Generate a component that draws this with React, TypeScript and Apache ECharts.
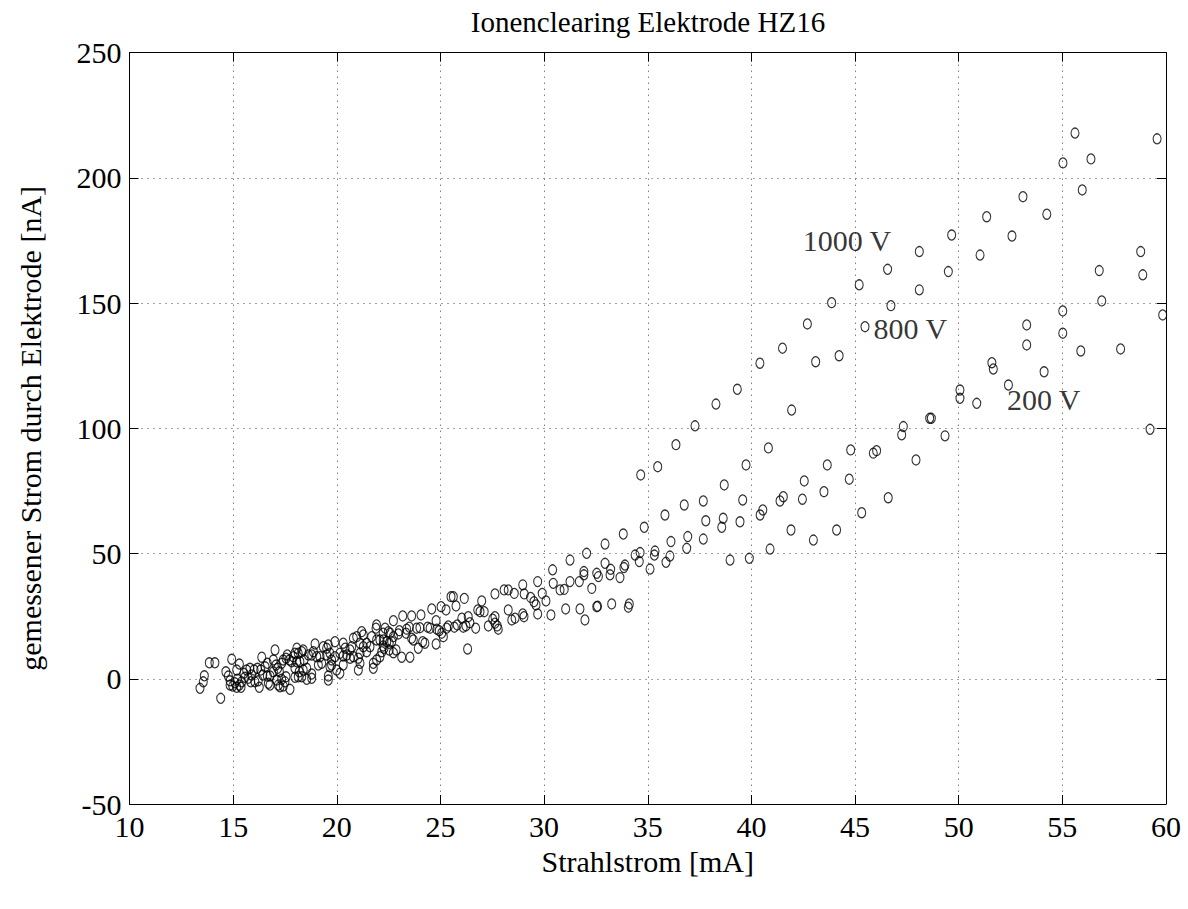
import React, { useEffect, useRef } from "react";
import * as echarts from "echarts";

// Strahlstrom [mA] (x) and gemessener Strom [nA] (y)
const strahlstrom: number[] = [
  13.40, 13.56, 13.61, 13.85, 14.12, 14.40, 14.93, 14.65, 14.77, 14.85,
  14.85, 14.98, 15.09, 15.17, 15.30, 15.38, 15.20, 15.41, 15.30, 15.17,
  15.57, 15.52, 15.65, 15.81, 16.01, 16.17, 16.33, 15.73, 15.85, 16.05,
  16.21, 16.26, 15.89, 16.43, 16.65, 16.78, 16.70, 16.78, 16.38, 16.65,
  16.54, 17.02, 16.94, 17.07, 17.15, 17.23, 16.94, 17.18, 17.10, 17.34,
  17.50, 17.55, 17.74, 17.34, 17.42, 17.55, 17.61, 17.71, 17.82, 17.90,
  18.07, 17.98, 18.14, 18.31, 18.38, 18.07, 18.22, 18.42, 17.98, 18.19,
  18.38, 18.55, 17.98, 18.14, 18.31, 18.79, 18.63, 18.79, 18.87, 18.95,
  19.03, 19.19, 19.11, 19.27, 19.35, 19.51, 19.59, 19.51, 19.67, 19.75,
  19.91, 19.67, 19.75, 19.59, 19.91, 20.31, 20.40, 20.31, 20.15, 20.31,
  20.48, 20.64, 20.72, 20.80, 20.96, 21.04, 21.12, 21.20, 21.28, 21.44,
  21.60, 21.68, 21.76, 21.92, 22.08, 21.92, 21.89, 22.28, 22.24, 22.41,
  22.53, 22.57, 22.49, 21.12, 21.28, 20.64, 20.80, 21.76, 21.12, 21.44,
  22.08, 21.92, 21.04, 19.99, 20.15, 19.59, 18.55, 18.79, 17.26, 17.42,
  32.05, 31.25, 30.41, 32.54, 32.62, 31.92, 31.92, 31.70, 31.25, 30.77,
  30.97, 30.44, 32.30, 29.69, 28.97, 29.91, 29.51, 29.61, 30.09, 29.69,
  30.33, 31.04, 31.73, 32.54, 32.58, 31.97, 28.56, 29.04, 29.35, 28.27,
  28.97, 29.03, 28.60, 28.44, 28.07, 28.27, 27.63, 26.99, 26.80, 26.91,
  27.11, 27.63, 27.52, 27.63, 27.74, 27.79, 27.31, 26.15, 25.75, 25.51,
  25.62, 25.03, 25.27, 24.58, 24.06, 23.61, 23.18, 22.73, 22.33, 24.79,
  26.03, 26.34, 26.70, 26.42, 26.23, 26.10, 25.81, 25.67, 25.38, 25.30,
  24.94, 25.06, 25.14, 24.82, 24.38, 24.50, 24.01, 23.85, 23.50, 23.37,
  23.34, 23.02, 22.97, 22.73, 22.65, 22.24, 22.24, 22.17, 22.86, 22.73,
  22.53, 23.13, 23.53, 23.69, 23.61, 23.93, 24.25, 24.14, 24.79, 26.31,
  36.36, 40.82, 34.66, 35.48, 39.74, 38.69, 42.55, 36.76, 37.68, 39.58,
  41.38, 41.54, 42.46, 35.83, 37.80, 38.64, 38.57, 39.45, 40.55, 40.42,
  34.83, 33.82, 32.94, 36.12, 36.93, 37.68, 36.88, 41.91, 42.99, 40.90,
  38.97, 39.90, 34.63, 34.39, 35.35, 35.32, 36.07, 35.88, 34.59, 35.11,
  32.94, 33.21, 33.18, 33.90, 33.85, 33.66, 33.26, 34.11, 34.06,
  37.28, 38.29, 39.32, 40.41,
  44.79, 43.66, 45.88, 46.04, 47.94, 44.72, 43.50, 46.60, 45.32, 44.11,
  55.96, 53.10, 54.25, 51.35, 52.57, 49.66, 51.03, 48.10, 49.50, 46.57,
  48.10, 45.20, 46.73, 43.87, 45.48, 42.70, 41.50, 43.10, 44.23, 41.94,
  47.33, 47.25, 48.60, 48.68, 49.34, 50.06, 50.06, 50.87, 51.60, 51.67,
  52.40, 53.28, 53.28, 54.12, 55.02, 55.02, 55.89, 57.81, 56.90, 56.78,
  58.78, 58.88, 59.84, 59.23,
  55.03, 55.61, 56.38, 59.57,
];

const elektrodenstrom: number[] = [
  -3.8, -1.2, 1.2, 6.4, 6.4, -7.8, 7.8, 2.8, 1.1, -0.8,
  -2.5, -2.9, -1.6, -3.4, -2.5, -3.4, -0.2, -1.2, 5.9, 3.5,
  0.6, 2.2, 3.5, 4.2, 3.5, 4.2, 3.5, 0.2, -1.2, -1.2,
  -0.8, -3.4, 1.5, 1.5, 1.1, 1.1, -1.8, -2.5, 8.6, 6.2,
  4.8, 11.5, 7.5, 5.5, 4.2, 2.8, 2.8, -2.5, -0.5, -0.2,
  -1.2, 0.8, -4.2, 6.2, 7.5, 8.2, 9.5, 7.5, 6.8, 8.8,
  12.2, 10.2, 10.2, 10.8, 11.5, 6.8, 6.8, 7.5, 4.2, 2.8,
  3.5, 4.2, 0.6, 0.8, 0.8, 1.9, 9.5, 9.5, 10.8, 13.9,
  8.8, 8.8, 5.5, 6.2, 12.8, 12.2, 13.5, 9.5, 10.2, 7.5,
  8.8, 4.8, 5.5, 1.1, 14.8, 14.2, 12.2, 5.5, 10.2, 9.1,
  9.5, 11.5, 12.8, 16.2, 16.8, 8.2, 6.2, 18.8, 17.5, 14.2,
  12.8, 16.8, 6.2, 7.5, 8.8, 21.5, 20.2, 12.2, 18.2, 14.8,
  14.2, 18.2, 18.8, 14.2, 12.8, 8.2, 8.8, 4.2, 10.2, 10.8,
  15.5, 15.5, 3.5, 3.5, 2.2, -0.5, -0.2, 0.2, -3.2, -2.9,
  50.1, 47.4, 43.5, 42.1, 40.8, 42.8, 41.5, 38.8, 38.8, 35.5,
  35.7, 38.1, 36.1, 38.8, 37.5, 34.1, 30.8, 29.5, 31.1, 25.9,
  25.5, 27.9, 27.9, 28.8, 29.0, 23.5, 34.1, 33.9, 32.5, 27.5,
  25.9, 24.8, 24.2, 23.5, 35.5, 35.5, 33.9, 31.1, 27.5, 26.8,
  26.8, 24.8, 23.8, 22.2, 21.1, 19.8, 21.1, 32.1, 29.1, 32.8,
  32.8, 28.8, 27.5, 27.9, 25.5, 25.1, 25.1, 23.2, 20.2, 23.2,
  24.2, 24.8, 20.2, 22.4, 21.1, 20.6, 21.5, 20.6, 21.1, 20.2,
  19.2, 18.2, 16.8, 19.8, 20.6, 20.2, 20.4, 20.2, 20.6, 19.8,
  18.2, 19.2, 17.9, 16.8, 14.8, 15.5, 13.1, 10.8, 11.5, 10.4,
  11.5, 8.6, 8.6, 15.5, 16.2, 12.2, 14.2, 14.8, 13.9, 11.9,
  93.5, 92.2, 81.4, 84.7, 85.4, 77.4, 79.0, 69.4, 71.0, 71.4,
  71.0, 72.7, 71.7, 65.4, 63.1, 64.1, 60.5, 62.7, 67.4, 65.4,
  60.5, 57.8, 53.8, 54.8, 56.8, 55.8, 52.1, 59.4, 55.4, 51.8,
  47.4, 48.1, 50.4, 49.4, 51.0, 49.4, 49.0, 46.5, 46.8, 43.8,
  46.1, 43.7, 41.5, 45.4, 44.4, 40.4, 29.9, 29.9, 28.6,
  101.0, 109.7, 115.6, 126.0,
  91.4, 85.4, 90.1, 91.1, 87.4, 79.7, 74.7, 72.3, 66.3, 59.4,
  195.2, 192.5, 185.5, 184.5, 176.8, 177.2, 169.2, 170.6, 162.6, 163.5,
  155.3, 157.3, 149.0, 150.2, 140.6, 141.7, 132.0, 126.6, 129.0, 107.3,
  100.7, 97.4, 104.0, 104.0, 97.0, 115.3, 112.0, 110.0, 126.2, 123.7,
  117.3, 141.3, 133.3, 122.6, 146.9, 138.0, 130.9, 131.7, 150.9, 163.0,
  170.6, 161.3, 145.3, 99.6,
  206.0, 217.9, 207.6, 215.6,
];

const annotationText: string[] = ["1000 V", "800 V", "200 V"];
const annotationX: number[] = [44.61, 47.67, 54.1];
const annotationY: number[] = [175.2, 139.7, 111.7];

const FONT = "'Liberation Serif', 'Times New Roman', serif";

export default function App() {
  const ref = useRef<HTMLDivElement>(null);

  useEffect(() => {
    if (!ref.current) return;
    const chart = echarts.init(ref.current, null, { renderer: "svg" });
    const axisLine = { show: true, onZero: false, lineStyle: { color: "#000", width: 1 } };
    const axisTick = { show: true, inside: true, length: 9, lineStyle: { color: "#000", width: 1 } };
    const splitLine = { show: true, lineStyle: { color: "#444", width: 1, type: [1, 5] } };
    const labelStyle = { fontFamily: FONT, fontSize: 30, color: "#000" };

    chart.setOption({
      animation: false,
      backgroundColor: "#ffffff",
      title: {
        text: "Ionenclearing Elektrode HZ16",
        left: 648,
        top: 7,
        textAlign: "center",
        padding: 0,
        textStyle: { fontFamily: FONT, fontSize: 29, fontWeight: "normal", color: "#000" },
      },
      grid: { left: 129.5, top: 52.7, width: 1036.5, height: 751.3, show: false },
      xAxis: [
        {
          type: "value",
          min: 10,
          max: 60,
          interval: 5,
          position: "bottom",
          axisLine,
          axisTick,
          axisLabel: { ...labelStyle, margin: 7 },
          splitLine,
          name: "Strahlstrom [mA]",
          nameLocation: "middle",
          nameGap: 42,
          nameTextStyle: labelStyle,
        },
        {
          type: "value",
          min: 10,
          max: 60,
          interval: 5,
          position: "top",
          axisLine,
          axisTick,
          axisLabel: { show: false },
          splitLine: { show: false },
        },
      ],
      yAxis: [
        {
          type: "value",
          min: -50,
          max: 250,
          interval: 50,
          position: "left",
          axisLine,
          axisTick,
          axisLabel: { ...labelStyle, margin: 8 },
          splitLine,
          name: "gemessener Strom durch Elektrode [nA]",
          nameLocation: "middle",
          nameGap: 84,
          nameRotate: 90,
          nameTextStyle: labelStyle,
        },
        {
          type: "value",
          min: -50,
          max: 250,
          interval: 50,
          position: "right",
          axisLine,
          axisTick,
          axisLabel: { show: false },
          splitLine: { show: false },
        },
      ],
      series: [
        {
          type: "scatter",
          xAxisIndex: 0,
          yAxisIndex: 0,
          data: strahlstrom.map((x, i) => [x, elektrodenstrom[i]]),
          symbol: "circle",
          symbolSize: [8, 10],
          itemStyle: { color: "rgba(0,0,0,0)", borderColor: "#000", borderWidth: 1.2 },
          silent: true,
        },
        {
          type: "scatter",
          xAxisIndex: 0,
          yAxisIndex: 0,
          data: annotationX.map((x, i) => [x, annotationY[i]]),
          symbolSize: 1,
          itemStyle: { color: "rgba(0,0,0,0)" },
          label: {
            show: true,
            position: "inside",
            formatter: (p: any) => annotationText[p.dataIndex],
            fontFamily: FONT,
            fontSize: 30,
            color: "#000",
          },
          silent: true,
        },
      ],
    });

    return () => chart.dispose();
  }, []);

  return (
    <div
      ref={ref}
      style={{ position: "fixed", left: 0, top: 0, width: 1188, height: 909, background: "#fff" }}
    />
  );
}
